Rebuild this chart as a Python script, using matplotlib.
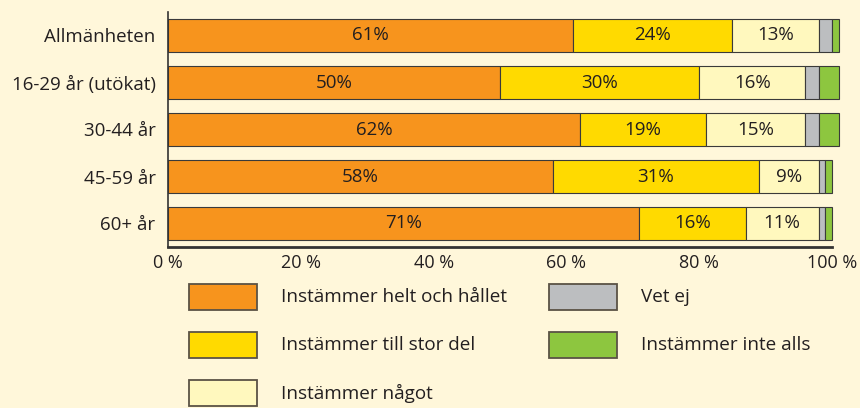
import matplotlib.pyplot as plt
from matplotlib.patches import Rectangle
import numpy as np

plt.rcParams['font.family'] = ['Open Sans', 'DejaVu Sans']

groups = ['Allmänheten', '16-29 år (utökat)', '30-44 år', '45-59 år', '60+ år']
series = ['Instämmer helt och hållet', 'Instämmer till stor del', 'Instämmer något',
          'Vet ej', 'Instämmer inte alls']
helt = [61, 50, 62, 58, 71]
stor = [24, 30, 19, 31, 16]
nagot = [13, 16, 15, 9, 11]
vetej = [2, 2, 2, 1, 1]
inte = [1, 3, 3, 1, 1]
ticks = [0, 20, 40, 60, 80, 100]

colors = ['#F7941D', '#FFDA00', '#FFF8BE', '#BCBEC0', '#8DC63F']
bg = '#FFF7DA'
txt = '#231F20'

values = [helt, stor, nagot, vetej, inte]

fig = plt.figure(figsize=(8.6, 4.08), dpi=100, facecolor=bg)
ax = fig.add_axes([168 / 860, 1 - 247 / 408, 664 / 860, 235 / 408])
ax.set_facecolor(bg)

y = np.arange(len(groups))
left = np.zeros(len(groups))
for i, vals in enumerate(values):
    bars = ax.barh(y, vals, left=left, height=0.72, color=colors[i],
                   edgecolor='#3A3A3A', linewidth=0.8, clip_on=False)
    if i < 3:
        ax.bar_label(bars, labels=[f'{v}%' for v in vals], label_type='center',
                     fontsize=13.5, color=txt)
    left += np.array(vals)

ax.set_ylim(4.5, -0.5)
ax.set_xlim(0, 100)
ax.set_yticks(y)
ax.set_yticklabels(groups, fontsize=13.5, color=txt)
ax.set_xticks(ticks)
ax.set_xticklabels([f'{t} %' for t in ticks], fontsize=13, color=txt)
ax.tick_params(length=0)
ax.tick_params(axis='y', pad=9)
ax.tick_params(axis='x', pad=5)
for s in ['top', 'right']:
    ax.spines[s].set_visible(False)
ax.spines['left'].set_color('#333333')
ax.spines['left'].set_linewidth(1.2)
ax.spines['bottom'].set_color('#333333')
ax.spines['bottom'].set_linewidth(2)
ax.spines['bottom'].set_zorder(5)

# legend drawn by hand: two columns, three rows
col_x = [189, 549]
row_y = [297, 345, 393]
W, H = 860, 408
for k, (lab, c) in enumerate(zip(series, colors)):
    cx = col_x[k // 3]
    cy = row_y[k % 3]
    fig.add_artist(Rectangle((cx / W, 1 - (cy + 13) / H), 68 / W, 26 / H,
                             facecolor=c, edgecolor='#5A5245', linewidth=1.3,
                             transform=fig.transFigure))
    fig.text((cx + 92) / W, 1 - cy / H, lab, fontsize=13.6, color=txt,
             va='center', ha='left')

fig.savefig('out.png', dpi=100, facecolor=bg)
